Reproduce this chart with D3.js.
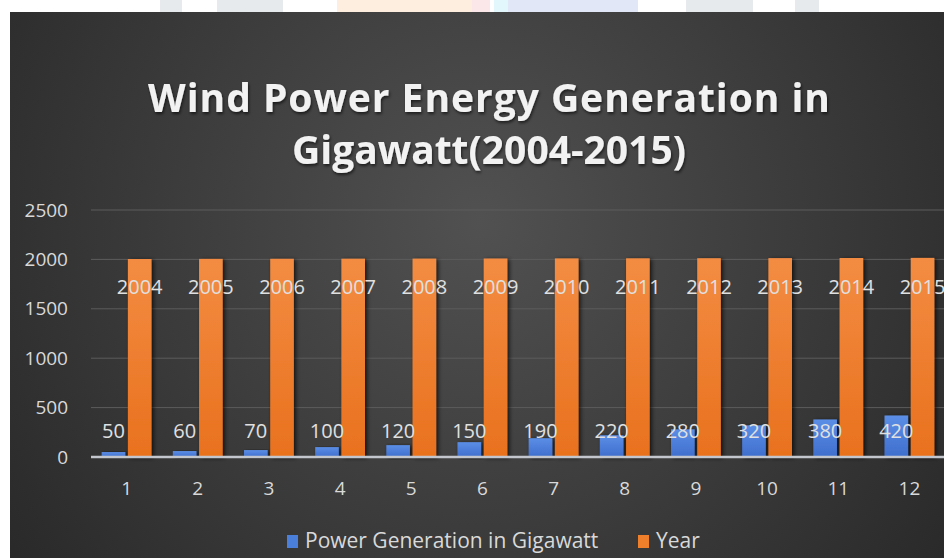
<!DOCTYPE html>
<html>
<head>
<meta charset="utf-8">
<script src="https://cdn.jsdelivr.net/npm/d3@7"></script>
<style>
  body { margin: 0; background: #fff; }
  svg { display: block; font-family: "Open Sans", sans-serif; }
</style>
</head>
<body>
<div id="graph"></div>
<script>
// Chart data
var categories = ["1", "2", "3", "4", "5", "6", "7", "8", "9", "10", "11", "12"];
var powerGen = [50, 60, 70, 100, 120, 150, 190, 220, 280, 320, 380, 420];
var years = [2004, 2005, 2006, 2007, 2008, 2009, 2010, 2011, 2012, 2013, 2014, 2015];
var yTicks = [0, 500, 1000, 1500, 2000, 2500];
var seriesNames = ["Power Generation in Gigawatt", "Year"];
var titleLines = ["Wind Power Energy Generation in", "Gigawatt(2004-2015)"];

const WIDTH = 944;
const HEIGHT = 558;

var margin = { top: 210, right: -1, bottom: 101, left: 91 };

var svg = d3.select("#graph")
  .append("svg")
  .attr("width", WIDTH)
  .attr("height", HEIGHT);

var defs = svg.append("defs");

var bg = defs.append("radialGradient")
  .attr("id", "bg")
  .attr("gradientUnits", "userSpaceOnUse")
  .attr("cx", 480).attr("cy", 220).attr("r", 600);
bg.append("stop").attr("offset", "0%").attr("stop-color", "#515151");
bg.append("stop").attr("offset", "100%").attr("stop-color", "#282828");

function barGradient(id, top, bottom) {
  var g = defs.append("linearGradient")
    .attr("id", id)
    .attr("x1", 0).attr("y1", 0).attr("x2", 0).attr("y2", 1);
  g.append("stop").attr("offset", "0%").attr("stop-color", top);
  g.append("stop").attr("offset", "100%").attr("stop-color", bottom);
}
barGradient("blueGrad", "#5b8ee6", "#3f6ecd");
barGradient("orangeGrad", "#f38c42", "#e9711e");

var shadow = defs.append("filter").attr("id", "shadow")
  .attr("x", "-30%").attr("y", "-10%").attr("width", "170%").attr("height", "130%");
shadow.append("feDropShadow")
  .attr("dx", 2).attr("dy", 1).attr("stdDeviation", 2)
  .attr("flood-color", "#000").attr("flood-opacity", 0.7);

var textShadow = defs.append("filter").attr("id", "textShadow");
textShadow.append("feDropShadow")
  .attr("dx", 1).attr("dy", 2).attr("stdDeviation", 1.5)
  .attr("flood-color", "#000").attr("flood-opacity", 0.6);

// faint watermark pieces above the chart
var marks = [
  [160, 182, "#e6eaec"], [217, 283, "#e6eaec"],
  [337, 472, "#fdeedf"], [472, 490, "#fbe6ea"], [494, 508, "#e2f7fb"],
  [508, 638, "#e2e7f8"], [686, 753, "#e6eaec"], [795, 819, "#e6eaec"]
];
svg.selectAll(".wm")
  .data(marks)
  .enter().append("rect")
  .attr("x", function (d) { return d[0]; })
  .attr("y", 0)
  .attr("width", function (d) { return d[1] - d[0]; })
  .attr("height", 12)
  .attr("fill", function (d) { return d[2]; });

// chart background
svg.append("rect")
  .attr("x", 10).attr("y", 12)
  .attr("width", WIDTH - 10).attr("height", HEIGHT - 12)
  .attr("fill", "url(#bg)");

// Title
var titleWidths = [682, 394];
svg.selectAll(".title")
  .data(titleLines)
  .enter().append("text")
  .attr("class", "title")
  .attr("x", 489)
  .attr("y", function (d, i) { return 112 + i * 52; })
  .attr("text-anchor", "middle")
  .attr("fill", "#f2f2f2")
  .attr("font-size", 39)
  .attr("font-weight", 700)
  .attr("textLength", function (d, i) { return titleWidths[i]; })
  .attr("lengthAdjust", "spacing")
  .attr("filter", "url(#textShadow)")
  .text(function (d) { return d; });

// Scales
var x0 = d3.scaleBand()
  .domain(categories)
  .range([margin.left, WIDTH - margin.right])
  .paddingInner(0.3)
  .paddingOuter(0.15);

var x1 = d3.scaleBand()
  .domain(seriesNames)
  .range([0, x0.bandwidth()])
  .paddingInner(0.1);

var y = d3.scaleLinear()
  .domain([0, 2500])
  .range([HEIGHT - margin.bottom, margin.top]);

// Gridlines
svg.append("g")
  .selectAll("line")
  .data(yTicks.slice(1))
  .enter().append("line")
  .attr("x1", margin.left).attr("x2", WIDTH)
  .attr("y1", function (d) { return y(d); })
  .attr("y2", function (d) { return y(d); })
  .attr("stroke", "#5c5c5c")
  .attr("stroke-width", 1);

// Y axis labels
var yAxis = d3.axisLeft(y).tickValues(yTicks).tickFormat(d3.format("d")).tickSize(0).tickPadding(0);
svg.append("g")
  .attr("transform", "translate(68,0)")
  .call(yAxis)
  .call(function (g) { g.select(".domain").remove(); })
  .selectAll("text")
  .attr("fill", "#d9d9d9")
  .attr("font-size", 19)
  .attr("font-family", "Open Sans, sans-serif");

// Bars
var groups = svg.append("g")
  .selectAll("g")
  .data(categories)
  .enter().append("g")
  .attr("transform", function (d) { return "translate(" + x0(d) + ",0)"; });

groups.append("rect")
  .attr("x", x1(seriesNames[0]))
  .attr("width", x1.bandwidth())
  .attr("y", function (d, i) { return y(powerGen[i]); })
  .attr("height", function (d, i) { return y(0) - y(powerGen[i]); })
  .attr("fill", "url(#blueGrad)")
  .attr("filter", "url(#shadow)");

groups.append("rect")
  .attr("x", x1(seriesNames[1]))
  .attr("width", x1.bandwidth())
  .attr("y", function (d, i) { return y(years[i]); })
  .attr("height", function (d, i) { return y(0) - y(years[i]); })
  .attr("fill", "url(#orangeGrad)")
  .attr("filter", "url(#shadow)");

// X axis line
svg.append("line")
  .attr("x1", margin.left).attr("x2", WIDTH)
  .attr("y1", y(0)).attr("y2", y(0))
  .attr("stroke", "#c3c6cc")
  .attr("stroke-width", 2.5);

// Data labels
groups.append("text")
  .attr("x", x1(seriesNames[0]) + x1.bandwidth() / 2)
  .attr("y", y(0) - 19)
  .attr("text-anchor", "middle")
  .attr("fill", "#e0e0e0")
  .attr("font-size", 20)
  .text(function (d, i) { return powerGen[i]; });

groups.append("text")
  .attr("x", x1(seriesNames[1]) + x1.bandwidth() / 2)
  .attr("y", y(0) - 163)
  .attr("text-anchor", "middle")
  .attr("fill", "#e0e0e0")
  .attr("font-size", 20)
  .text(function (d, i) { return years[i]; });

// X axis labels
var xAxis = d3.axisBottom(x0).tickSize(0).tickPadding(0);
svg.append("g")
  .attr("transform", "translate(0," + (y(0) + 24) + ")")
  .call(xAxis)
  .call(function (g) { g.select(".domain").remove(); })
  .selectAll("text")
  .attr("fill", "#d9d9d9")
  .attr("font-size", 19)
  .attr("font-family", "Open Sans, sans-serif");

// Legend
var legend = [
  { name: seriesNames[0], color: "#4a7fdc", x: 287 },
  { name: seriesNames[1], color: "#f07f2c", x: 638 }
];
var lg = svg.append("g")
  .selectAll("g")
  .data(legend)
  .enter().append("g")
  .attr("transform", function (d) { return "translate(" + d.x + ",535)"; });
lg.append("rect")
  .attr("width", 11).attr("height", 13)
  .attr("fill", function (d) { return d.color; });
lg.append("text")
  .attr("x", 18).attr("y", 13)
  .attr("fill", "#d9d9d9")
  .attr("font-size", 21)
  .text(function (d) { return d.name; });
</script>
</body>
</html>
